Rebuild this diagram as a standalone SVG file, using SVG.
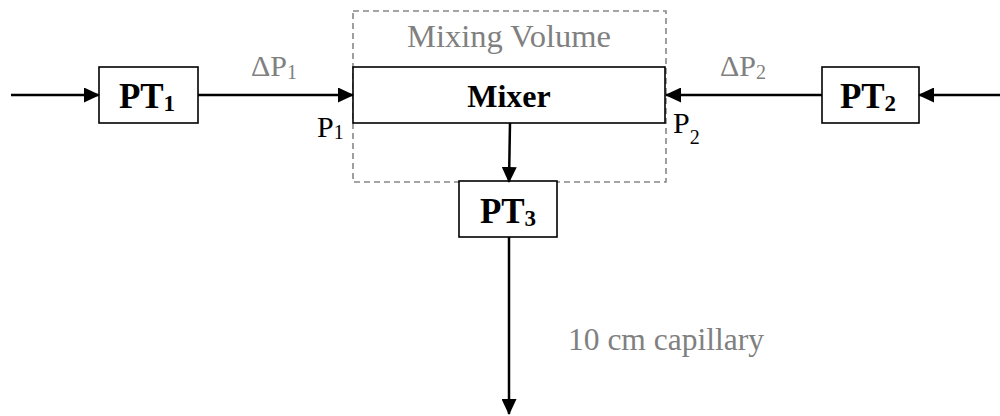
<svg xmlns="http://www.w3.org/2000/svg" width="1000" height="416" viewBox="0 0 1000 416">
<style>
.box{fill:#fff;stroke:#000;stroke-width:1.6}
.lbl{font-family:"Liberation Serif",serif;fill:#000}
.pt{font-family:"Liberation Serif",serif;font-size:35px;font-weight:bold;fill:#000}
.b{font-weight:bold}
.gray{fill:#808080}
.conn{stroke:#000;stroke-width:2.5;fill:none}
</style>
<defs>
<marker id="ah" markerWidth="16" markerHeight="15" refX="15" refY="7.5" orient="auto" markerUnits="userSpaceOnUse">
<path d="M0,0 L16,7.5 L0,15 Z" fill="#000"/>
</marker>
</defs>
<g id="mixing-volume">
<rect x="353" y="11" width="313" height="171" fill="none" stroke="#888" stroke-width="1.6" stroke-dasharray="6,4"/>
<text class="lbl gray" x="509" y="47" font-size="32.5" text-anchor="middle">Mixing Volume</text>
</g>
<g id="mixer">
<rect class="box" x="353" y="67" width="312" height="56"/>
<text class="lbl b" x="509" y="107" font-size="32" text-anchor="middle">Mixer</text>
</g>
<g id="pt1">
<rect class="box" x="99" y="67" width="99" height="56"/>
<text class="pt" x="147" y="108" text-anchor="middle">PT<tspan font-size="23" dy="3">1</tspan></text>
</g>
<g id="pt2">
<rect class="box" x="822" y="67" width="97" height="56"/>
<text class="pt" x="868" y="108" text-anchor="middle">PT<tspan font-size="23" dy="3">2</tspan></text>
</g>
<g id="pt3">
<rect class="box" x="459" y="181" width="98" height="56"/>
<text class="pt" x="508" y="223" text-anchor="middle">PT<tspan font-size="23" dy="3">3</tspan></text>
</g>
<g id="connectors">
<line class="conn" x1="11" y1="95" x2="99" y2="95" marker-end="url(#ah)"/>
<line class="conn" x1="198" y1="95" x2="353" y2="95" marker-end="url(#ah)"/>
<line class="conn" x1="1000" y1="95" x2="919" y2="95" marker-end="url(#ah)"/>
<line class="conn" x1="822" y1="95" x2="666" y2="95" marker-end="url(#ah)"/>
<line class="conn" x1="510" y1="123" x2="509" y2="182" marker-end="url(#ah)"/>
<line class="conn" x1="509" y1="237" x2="509" y2="414" marker-end="url(#ah)"/>
</g>
<g id="labels">
<text class="lbl gray" x="251" y="76" font-size="30">ΔP<tspan font-size="20" dy="3">1</tspan></text>
<text class="lbl" x="317" y="137" font-size="30">P<tspan font-size="20" dy="2">1</tspan></text>
<text class="lbl gray" x="720" y="76" font-size="30">ΔP<tspan font-size="20" dy="3">2</tspan></text>
<text class="lbl" x="673" y="133" font-size="30">P<tspan font-size="20" dy="11">2</tspan></text>
<text class="lbl gray" x="568" y="350" font-size="31.5">10 cm capillary</text>
</g>
</svg>
